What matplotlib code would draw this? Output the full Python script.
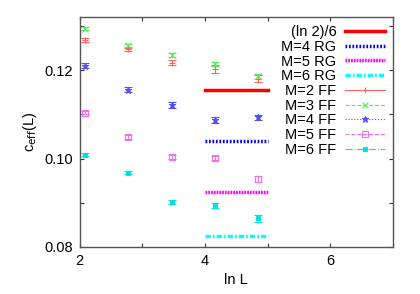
import numpy as np
import matplotlib
matplotlib.use("Agg")
import matplotlib.pyplot as plt
from matplotlib.lines import Line2D

plt.rcParams['font.family'] = ['Liberation Sans', 'DejaVu Sans']

# ln L for L = 8, 16, 32, 64, 128
lnL = np.log([8, 16, 32, 64, 128])

# free-fermion estimates c_eff(L) with error bars
ff_m2 = [0.1268, 0.1247, 0.1217, 0.1202, 0.1180]
ff_m2_err = [0.0004, 0.0004, 0.0006, 0.0009, 0.0008]
ff_m3 = [0.1294, 0.1256, 0.1234, 0.1214, 0.1186]
ff_m3_err = [0.0004, 0.0004, 0.0004, 0.0005, 0.0006]
ff_m4 = [0.1210, 0.1156, 0.1121, 0.1087, 0.1093]
ff_m4_err = [0.0005, 0.0005, 0.0006, 0.0007, 0.0005]
ff_m5 = [0.1104, 0.1049, 0.1003, 0.1001, 0.0954]
ff_m5_err = [0.0004, 0.0004, 0.0005, 0.0005, 0.0007]
ff_m6 = [0.1009, 0.0968, 0.0902, 0.0893, 0.0865]
ff_m6_err = [0.0003, 0.0004, 0.0004, 0.0006, 0.0008]

# RG values, drawn between ln L = 4 and 5
rg_x = [4, 5]
rg_ln2 = np.log(2) / 6
rg_m4 = 0.1040
rg_m5 = 0.0924
rg_m6 = 0.0824

fig, ax = plt.subplots(figsize=(4.2, 2.94), dpi=100)
fig.subplots_adjust(left=0.19, right=0.935, top=0.942, bottom=0.16)

# RG lines
ax.plot(rg_x, [rg_ln2] * 2, color='red', lw=2.5, label='(ln 2)/6')
ax.plot(rg_x, [rg_m4] * 2, color='blue', lw=2.5, ls=(0, (0.5, 0.5)), label='M=4 RG')
ax.plot(rg_x, [rg_m5] * 2, color='magenta', lw=2.5, ls=(0, (0.5, 0.3)), label='M=5 RG')
ax.plot(rg_x, [rg_m6] * 2, color='cyan', lw=2.5, ls=(0, (1.5, 0.6, 0.5, 0.6)), label='M=6 RG')

# FF data
ff = [
    ('M=2 FF', ff_m2, ff_m2_err, '#ff6060', '+', 'full', '-', 4.5),
    ('M=3 FF', ff_m3, ff_m3_err, '#60e860', 'x', 'full', '--', 4),
    ('M=4 FF', ff_m4, ff_m4_err, '#5050ff', '*', 'full', ':', 4.5),
    ('M=5 FF', ff_m5, ff_m5_err, '#f070f0', 's', 'none', '--', 4),
    ('M=6 FF', ff_m6, ff_m6_err, '#00e0e0', 's', 'full', '-.', 3.5),
]
handles, labels = ax.get_legend_handles_labels()
for lab, y, err, col, mk, fill, ls, ms in ff:
    ax.errorbar(lnL, y, yerr=err, fmt=mk, color=col, ms=ms, mew=0.8,
                fillstyle=fill, elinewidth=0.8, capsize=3, capthick=0.8)
    handles.append(Line2D([], [], color=col, lw=0.8, ls=ls, marker=mk, ms=ms,
                          mew=0.8, fillstyle=fill))
    labels.append(lab)

ax.set_xlim(2, 7)
ax.set_ylim(0.08, 0.132)
ax.set_xticks([2, 3, 4, 5, 6, 7])
ax.set_xticklabels(['2', '', '4', '', '6', ''])
ax.set_yticks([0.08, 0.09, 0.10, 0.11, 0.12, 0.13])
ax.set_yticklabels(['0.08', '', '0.10', '', '0.12', ''])
ax.tick_params(direction='in', top=True, right=True, length=3, width=0.8,
               labelsize=10.5, pad=5, colors='#333333', labelcolor='black')
for s in ax.spines.values():
    s.set_color('#555555')
    s.set_linewidth(1)

ax.set_xlabel('ln L', fontsize=10.5)
ax.set_ylabel(r'c$_{\rm eff}$(L)', fontsize=10.5)

ax.legend(handles, labels, loc='upper right', markerfirst=False, frameon=False,
          fontsize=10.5, handlelength=2.7, handletextpad=0.6, labelspacing=0.05,
          borderaxespad=0.0, borderpad=0.0, bbox_to_anchor=(0.974, 0.965))

fig.savefig('out.png', dpi=100)
